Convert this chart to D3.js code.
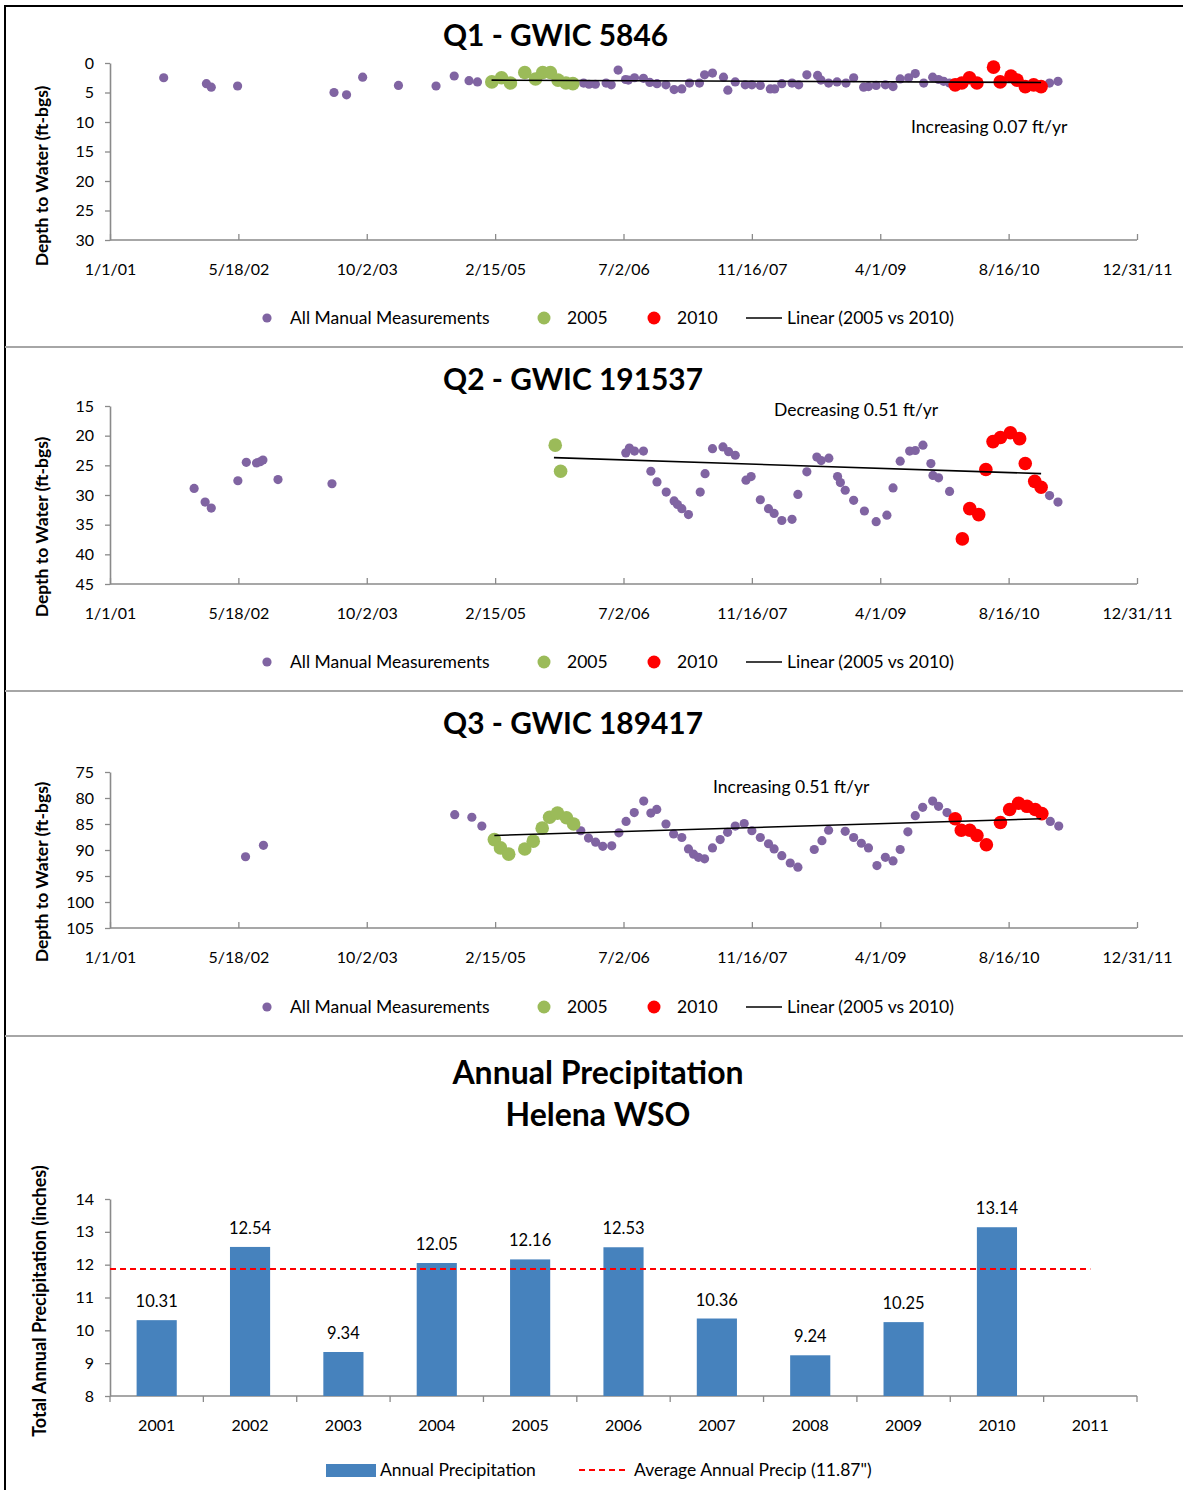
<!DOCTYPE html>
<html><head><meta charset="utf-8">
<script src="https://cdn.jsdelivr.net/npm/d3@7"></script>
<style>
body{margin:0;background:#fff}
svg{display:block}
text{font-family:Lato,'Open Sans',sans-serif;fill:#000}
</style>
</head><body>
<svg id="c" width="1183" height="1490"></svg>
<script>
// ---------------- DATA ----------------
const xTickLabels = ["1/1/01","5/18/02","10/2/03","2/15/05","7/2/06","11/16/07","4/1/09","8/16/10","12/31/11"];
const legendLabels = ["All Manual Measurements","2005","2010","Linear (2005 vs 2010)"];

// Q1 - GWIC 5846 (depth to water, ft-bgs)
const q1All = [["2001-07-30",2.5],["2002-01-13",3.5],["2002-02-01",4.1],["2002-05-15",3.9],["2003-05-27",5.0],["2003-07-15",5.4],["2003-09-16",2.4],["2004-02-03",3.8],["2004-06-29",3.9],["2004-09-08",2.2],["2004-11-05",3.0],["2004-12-08",3.2],
["2006-01-27",3.4],["2006-02-17",3.6],["2006-03-14",3.6],["2006-04-25",3.4],["2006-05-15",3.7],["2006-06-11",1.2],["2006-07-10",2.8],["2006-07-21",2.9],["2006-08-14",2.5],["2006-09-18",2.6],["2006-10-13",3.3],["2006-11-10",3.5],["2006-12-15",3.7],
["2007-01-16",4.5],["2007-02-15",4.4],["2007-03-17",3.4],["2007-04-25",3.4],["2007-05-15",2.0],["2007-06-15",1.7],["2007-07-28",2.4],["2007-08-14",4.6],["2007-09-12",3.2],["2007-10-21",3.7],["2007-11-16",3.7],["2007-12-19",3.8],
["2008-01-27",4.4],["2008-02-13",4.4],["2008-03-12",3.5],["2008-04-21",3.4],["2008-05-17",3.7],["2008-06-18",2.0],["2008-07-30",2.1],["2008-08-12",2.9],["2008-09-11",3.4],["2008-10-14",3.2],["2008-11-18",3.4],["2008-12-18",2.5],
["2009-01-26",4.1],["2009-02-14",4.0],["2009-03-16",3.8],["2009-04-21",3.7],["2009-05-21",4.0],["2009-06-18",2.7],["2009-07-21",2.5],["2009-08-16",1.8],["2009-09-18",3.4],["2009-10-23",2.4],["2009-11-15",2.8],["2009-12-05",3.1],["2009-12-28",3.4],
["2011-01-23",3.4],["2011-02-25",3.1]];
const q1Y2005 = [["2005-02-02",3.2],["2005-03-12",2.5],["2005-04-16",3.4],["2005-06-11",1.6],["2005-07-23",2.7],["2005-08-20",1.6],["2005-09-19",1.6],["2005-10-19",2.9],["2005-11-19",3.4],["2005-12-16",3.5]];
const q1Y2010 = [["2010-01-19",3.7],["2010-02-14",3.4],["2010-03-16",2.5],["2010-04-14",3.4],["2010-06-18",0.7],["2010-07-14",3.2],["2010-08-25",2.2],["2010-09-18",2.9],["2010-10-20",4.0],["2010-11-22",3.7],["2010-12-21",4.0]];
const q1Trend = [["2005-02-01",2.9],["2010-12-21",3.3]];

// Q2 - GWIC 191537
const q2All = [["2001-11-26",28.9],["2002-01-08",31.2],["2002-02-01",32.2],["2002-05-16",27.6],["2002-06-18",24.5],["2002-07-28",24.6],["2002-08-11",24.4],["2002-08-22",24.1],["2002-10-20",27.4],["2003-05-19",28.1],
["2006-07-11",22.9],["2006-07-25",22.1],["2006-08-14",22.6],["2006-09-18",22.6],["2006-10-17",26.0],["2006-11-10",27.8],["2006-12-16",29.5],
["2007-01-16",31.0],["2007-01-29",31.6],["2007-02-15",32.3],["2007-03-13",33.3],["2007-04-28",29.5],["2007-05-17",26.4],["2007-06-15",22.2],["2007-07-26",21.9],["2007-08-17",22.7],["2007-09-12",23.3],["2007-10-24",27.5],["2007-11-13",26.9],["2007-12-19",30.8],
["2008-01-20",32.3],["2008-02-11",33.1],["2008-03-12",34.3],["2008-04-21",34.1],["2008-05-14",29.9],["2008-06-18",26.1],["2008-07-27",23.6],["2008-08-13",24.2],["2008-09-12",23.8],["2008-10-16",26.9],["2008-10-27",27.9],["2008-11-15",29.2],["2008-12-18",30.9],
["2009-01-29",32.7],["2009-03-16",34.5],["2009-04-27",33.4],["2009-05-21",28.8],["2009-06-18",24.3],["2009-07-25",22.6],["2009-08-16",22.5],["2009-09-15",21.6],["2009-10-16",24.7],["2009-10-24",26.7],["2009-11-15",27.1],["2009-12-28",29.4],
["2011-01-23",30.1],["2011-02-25",31.2]];
const q2Y2005 = [["2005-10-08",21.6],["2005-10-29",26.0]];
const q2Y2010 = [["2010-02-16",37.4],["2010-03-17",32.3],["2010-04-21",33.3],["2010-05-19",25.7],["2010-06-16",21.0],["2010-07-15",20.3],["2010-08-23",19.5],["2010-09-28",20.5],["2010-10-20",24.7],["2010-11-26",27.7],["2010-12-21",28.7]];
const q2Trend = [["2005-10-03",23.7],["2010-12-21",26.4]];

// Q3 - GWIC 189417
const q3All = [["2002-06-15",91.3],["2002-08-24",89.1],["2004-09-10",83.2],["2004-11-16",83.7],["2004-12-25",85.4],
["2006-01-16",86.3],["2006-02-15",87.7],["2006-03-15",88.5],["2006-04-12",89.3],["2006-05-17",89.2],["2006-06-14",86.7],["2006-07-12",84.5],["2006-08-13",82.8],["2006-09-19",80.6],["2006-10-17",82.9],["2006-11-09",82.2],["2006-12-15",85.0],
["2007-01-14",86.9],["2007-02-15",87.6],["2007-03-13",89.8],["2007-04-02",90.8],["2007-04-21",91.4],["2007-05-15",91.7],["2007-06-15",89.6],["2007-07-15",88.0],["2007-08-13",86.6],["2007-09-12",85.4],["2007-10-17",84.9],["2007-11-16",86.3],["2007-12-19",87.6],
["2008-01-20",88.8],["2008-02-11",89.8],["2008-03-12",91.1],["2008-04-14",92.5],["2008-05-14",93.3],["2008-07-17",89.9],["2008-08-16",88.2],["2008-09-11",86.2],["2008-11-15",86.4],["2008-12-18",87.6],
["2009-01-17",88.7],["2009-02-14",89.6],["2009-03-19",93.0],["2009-04-21",91.4],["2009-05-21",92.1],["2009-06-18",89.9],["2009-07-18",86.5],["2009-08-16",83.4],["2009-09-14",81.8],["2009-10-23",80.6],["2009-11-15",81.6],["2009-12-18",82.8],
["2011-01-26",84.5],["2011-02-28",85.4]];
const q3Y2005 = [["2005-02-12",88.0],["2005-03-08",89.6],["2005-04-09",90.8],["2005-06-11",89.8],["2005-07-14",88.3],["2005-08-18",85.8],["2005-09-16",83.7],["2005-10-17",82.9],["2005-11-21",83.8],["2005-12-19",85.0]];
const q3Y2010 = [["2010-01-19",84.0],["2010-02-12",86.2],["2010-03-17",86.2],["2010-04-14",87.2],["2010-05-21",89.0],["2010-07-15",84.7],["2010-08-20",82.2],["2010-09-24",81.0],["2010-10-27",81.6],["2010-11-28",82.2],["2010-12-24",83.0]];
const q3Trend = [["2005-02-12",87.2],["2010-12-21",84.0]];

// Annual precipitation, Helena WSO
const precipYears = ["2001","2002","2003","2004","2005","2006","2007","2008","2009","2010","2011"];
const precipValues = [10.31,12.54,9.34,12.05,12.16,12.53,10.36,9.24,10.25,13.14,null];
const precipAverage = 11.87;
const precipTicks = [8,9,10,11,12,13,14];

// ---------------- DRAW ----------------
const svg = d3.select("#c");
const parse = d3.timeParse("%Y-%m-%d");
const parseTick = d3.timeParse("%m/%d/%y");
const tickDates = xTickLabels.map(parseTick);
const COL = {purple:"#8064a2", green:"#9bbb59", red:"#ff0000", axis:"#8a8a8a", bar:"#4682bd"};

const x = d3.scaleTime().domain([tickDates[0], tickDates[tickDates.length-1]]).range([110,1137]);

function styleAxis(g){
  g.select(".domain").attr("stroke",COL.axis).attr("stroke-width",1.6);
  g.selectAll(".tick line").attr("stroke",COL.axis).attr("stroke-width",1.3);
  g.selectAll(".tick text").attr("font-family","Lato,'Open Sans',sans-serif").attr("font-size",16).attr("fill","#000");
}

function scatterPanel(p){
  const y = d3.scaleLinear().domain(p.yDomain).range(p.yRange);
  const g = svg.append("g");
  g.append("text").attr("x",443).attr("y",p.titleY).attr("text-anchor","start")
    .attr("font-size",30).attr("font-weight","bold").attr("textLength",p.titleW).attr("lengthAdjust","spacingAndGlyphs").text(p.title);
  // axes
  const yAxis = g.append("g").attr("transform","translate(110,0)")
    .call(d3.axisLeft(y).tickValues(d3.range(p.yDomain[0],p.yDomain[1]+1,5)).tickSizeInner(5).tickSizeOuter(0).tickPadding(11));
  styleAxis(yAxis);
  const xAxis = g.append("g").attr("transform",`translate(0,${p.yRange[1]})`)
    .call(d3.axisBottom(x).tickValues(tickDates).tickFormat((d,i)=>xTickLabels[i]).tickSizeInner(-6).tickSizeOuter(0).tickPadding(24));
  styleAxis(xAxis);
  xAxis.select(".domain").attr("d",`M110,0H1137`);
  g.append("text").attr("transform",`translate(48,${p.yTitleY}) rotate(-90)`)
    .attr("text-anchor","middle").attr("font-size",17.5).attr("font-weight","bold").text("Depth to Water (ft-bgs)");
  // points
  const pts = (arr,r,c)=>g.append("g").selectAll("circle").data(arr).join("circle")
    .attr("cx",d=>x(parse(d[0]))).attr("cy",d=>y(d[1])).attr("r",r).attr("fill",c);
  pts(p.all,4.6,COL.purple);
  pts(p.y2005,6.8,COL.green);
  pts(p.y2010,6.8,COL.red);
  g.append("path").datum(p.trend)
    .attr("d",d3.line().x(d=>x(parse(d[0]))).y(d=>y(d[1])))
    .attr("stroke","#000").attr("stroke-width",1.6).attr("fill","none");
  g.append("text").attr("x",p.noteX).attr("y",p.noteY).attr("font-size",17.5).text(p.note);
  // legend
  const L = g.append("g").attr("transform",`translate(0,${p.legendY})`);
  L.append("circle").attr("cx",267).attr("cy",0).attr("r",4.6).attr("fill",COL.purple);
  L.append("text").attr("x",290).attr("y",6).attr("font-size",17.5).text(legendLabels[0]);
  L.append("circle").attr("cx",544).attr("cy",0).attr("r",6.5).attr("fill",COL.green);
  L.append("text").attr("x",567).attr("y",6).attr("font-size",17.5).text(legendLabels[1]);
  L.append("circle").attr("cx",654).attr("cy",0).attr("r",6.5).attr("fill",COL.red);
  L.append("text").attr("x",677).attr("y",6).attr("font-size",17.5).text(legendLabels[2]);
  L.append("line").attr("x1",746).attr("x2",782).attr("y1",0).attr("y2",0).attr("stroke","#000").attr("stroke-width",1.6);
  L.append("text").attr("x",787).attr("y",6).attr("font-size",17.5).text(legendLabels[3]);
}

scatterPanel({title:"Q1 - GWIC 5846",titleY:46,titleW:225,yTitleY:176,yDomain:[0,30],yRange:[63,240],all:q1All,y2005:q1Y2005,y2010:q1Y2010,trend:q1Trend,
  note:"Increasing 0.07 ft/yr",noteX:911,noteY:133,legendY:318});
scatterPanel({title:"Q2 - GWIC 191537",titleY:390,titleW:260,yTitleY:527,yDomain:[15,45],yRange:[406,584],all:q2All,y2005:q2Y2005,y2010:q2Y2010,trend:q2Trend,
  note:"Decreasing 0.51 ft/yr",noteX:774,noteY:416,legendY:662});
scatterPanel({title:"Q3 - GWIC 189417",titleY:734,titleW:260,yTitleY:872,yDomain:[75,105],yRange:[772,928],all:q3All,y2005:q3Y2005,y2010:q3Y2010,trend:q3Trend,
  note:"Increasing 0.51 ft/yr",noteX:713,noteY:793,legendY:1007});

// ---- bar chart ----
(function(){
  const g = svg.append("g");
  g.append("text").attr("x",598).attr("y",1084).attr("text-anchor","middle").attr("font-size",32).attr("font-weight","bold").text("Annual Precipitation");
  g.append("text").attr("x",598).attr("y",1126).attr("text-anchor","middle").attr("font-size",32).attr("font-weight","bold").text("Helena WSO");
  const xb = d3.scaleBand().domain(precipYears).range([110,1137]).padding(0);
  const yb = d3.scaleLinear().domain([8,14]).range([1396,1199]);
  const bw = xb.bandwidth();
  const yAxis = g.append("g").attr("transform","translate(110,0)")
    .call(d3.axisLeft(yb).tickValues(precipTicks).tickFormat(d3.format("d")).tickSizeInner(5).tickSizeOuter(0).tickPadding(11));
  styleAxis(yAxis);
  const xAxis = g.append("g").attr("transform","translate(0,1396)")
    .call(d3.axisBottom(xb).tickSize(0).tickPadding(24));
  styleAxis(xAxis);
  xAxis.select(".domain").attr("d","M110,0H1137");
  const bounds = precipYears.map(d=>xb(d)).concat([xb.range()[1]]);
  g.append("g").selectAll("line").data(bounds).join("line")
    .attr("x1",d=>d).attr("x2",d=>d).attr("y1",1396).attr("y2",1402).attr("stroke",COL.axis).attr("stroke-width",1.3);
  const data = precipYears.map((d,i)=>({year:d,v:precipValues[i]})).filter(d=>d.v!=null);
  g.append("g").selectAll("rect").data(data).join("rect")
    .attr("x",d=>xb(d.year)+bw*0.285).attr("width",bw*0.43)
    .attr("y",d=>yb(d.v)).attr("height",d=>yb(8)-yb(d.v)).attr("fill",COL.bar);
  g.append("g").selectAll("text").data(data).join("text")
    .attr("x",d=>xb(d.year)+bw/2).attr("y",d=>yb(d.v)-13).attr("text-anchor","middle").attr("font-size",16.5)
    .text(d=>d.v.toFixed(2));
  g.append("line").attr("x1",110).attr("x2",xb("2011")+bw/2).attr("y1",yb(precipAverage)).attr("y2",yb(precipAverage))
    .attr("stroke",COL.red).attr("stroke-width",2).attr("stroke-dasharray","6,4");
  g.append("text").attr("transform","translate(46,1301) rotate(-90)").attr("text-anchor","middle")
    .attr("font-size",18).attr("font-weight","bold").text("Total Annual Precipitation (inches)");
  const L = g.append("g").attr("transform","translate(0,1470)");
  L.append("rect").attr("x",326).attr("y",-6).attr("width",50).attr("height",13).attr("fill",COL.bar);
  L.append("text").attr("x",380).attr("y",6).attr("font-size",17.5).text("Annual Precipitation");
  L.append("line").attr("x1",579).attr("x2",625).attr("y1",0).attr("y2",0).attr("stroke",COL.red).attr("stroke-width",2).attr("stroke-dasharray","6,4");
  L.append("text").attr("x",634).attr("y",6).attr("font-size",17.5).text(`Average Annual Precip (${precipAverage}")`);
})();

// frame and separators
svg.append("path").attr("d","M5,1490V6H1183").attr("fill","none").attr("stroke","#000").attr("stroke-width",2);
svg.append("g").selectAll("line").data([347,691,1036]).join("line")
  .attr("x1",5).attr("x2",1183).attr("y1",d=>d).attr("y2",d=>d).attr("stroke","#a6a6a6").attr("stroke-width",2);
</script>
</body></html>
